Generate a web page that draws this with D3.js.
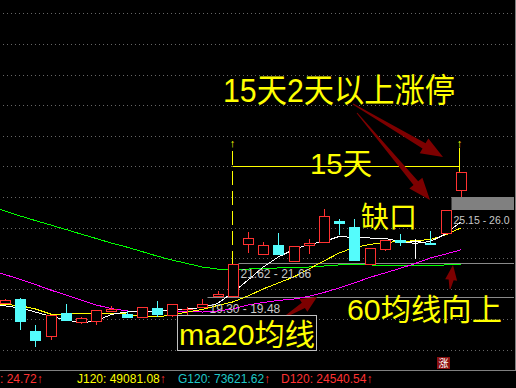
<!DOCTYPE html>
<html>
<head>
<meta charset="utf-8">
<script src="https://cdn.jsdelivr.net/npm/d3@7"></script>
<style>
  html, body { margin: 0; background: #000; }
  svg { display: block; font-family: "Liberation Sans", Arial, "Noto Sans CJK SC", sans-serif; }
</style>
</head>
<body>
<svg id="chart" width="516" height="388"></svg>
<script>
// daily candles, left to right (prices)
const opens  = [19.05, 19.33, 17.24, 16.93, 18.42, 17.78, 17.85, 18.58, 18.37, 18.16, 18.72, 18.29, 18.65, 18.79, 19.55, 19.55, 22.91, 22.25, 22.86, 21.84, 22.91, 23.04, 24.43, 24.02, 21.60, 22.58, 23.22, 23.10, 22.97, 23.63, 26.50];
const highs  = [19.33, 19.40, 17.63, 18.29, 19.01, 18.16, 18.61, 18.88, 18.57, 18.81, 19.20, 19.01, 18.81, 19.30, 19.86, 21.62, 23.69, 23.04, 23.63, 22.82, 23.25, 25.20, 24.54, 24.56, 22.65, 23.19, 23.58, 23.23, 23.78, 25.15, 27.65];
const lows   = [19.01, 17.31, 16.22, 16.65, 17.94, 17.67, 17.63, 18.48, 18.09, 18.09, 18.18, 18.18, 18.14, 18.79, 19.48, 19.55, 22.32, 22.25, 22.25, 21.84, 22.27, 23.04, 23.52, 21.88, 21.60, 22.49, 22.80, 21.93, 22.90, 23.63, 26.00];
const closes = [19.27, 17.91, 16.65, 18.29, 17.96, 18.07, 18.59, 18.68, 18.18, 18.79, 18.33, 19.01, 18.68, 19.01, 19.66, 21.62, 23.30, 22.84, 22.25, 22.82, 23.01, 24.76, 24.32, 21.88, 22.65, 23.17, 23.12, 23.10, 22.91, 25.15, 27.65];

// moving averages; first value belongs to the bar just off the left edge
const ma5  = [18.91, 18.88, 18.75, 18.48, 18.19, 17.99, 17.76, 17.91, 18.32, 18.48, 18.52, 18.55, 18.61, 18.68, 18.78, 19.04, 19.76, 20.57, 21.42, 22.08, 22.57, 22.90, 23.09, 23.42, 23.35, 23.32, 23.30, 23.09, 22.97, 23.09, 23.58, 24.37];
const ma10 = [19.01, 18.97, 18.90, 18.68, 18.35, 18.35, 18.39, 18.39, 18.39, 18.35, 18.19, 18.16, 18.29, 18.48, 18.65, 18.91, 19.14, 19.53, 19.99, 20.38, 20.77, 21.29, 21.82, 22.34, 22.70, 22.90, 23.03, 23.09, 23.14, 23.22, 23.52, 23.97];
const ma20 = [21.26, 20.93, 20.61, 20.28, 19.92, 19.59, 19.27, 18.94, 18.71, 18.55, 18.52, 18.55, 18.55, 18.52, 18.48, 18.55, 18.68, 18.94, 19.10, 19.24, 19.33, 19.50, 19.76, 20.05, 20.38, 20.74, 21.03, 21.33, 21.65, 22.01, 22.27, 22.54];
const ma60 = [25.41, 25.08, 24.76, 24.46, 24.17, 23.88, 23.58, 23.29, 22.99, 22.73, 22.44, 22.14, 21.88, 21.65, 21.42, 21.29, 21.23, 21.29, 21.33, 21.36, 21.39, 21.42, 21.49, 21.56, 21.59, 21.56, 21.52, 21.49, 21.49, 21.49, 21.56, 21.62];

const gridPrices = [16, 18, 20, 22, 24, 26, 28, 30, 32, 34, 36, 38];

// gaps: low, high, bar after which the marker starts, label
const gapLows   = [19.30, 21.62, 25.15];
const gapHighs  = [19.48, 21.66, 26.0];
const gapBars   = [14, 16, 30];
const gapLabels = ['19.30 - 19.48', '21.62 - 21.66', '25.15 - 26.0'];

const legendNames  = ['', 'J120', 'G120', 'D120'];
const legendValues = ['24.72', '49081.08', '73621.62', '24540.54'];

const W = 516, H = 388;
const svg = d3.select('#chart');
const RED = '#ff3232', CYAN = '#54fcfc', YEL = '#ffff00', ARROW = '#7d0000';

const x = d3.scaleLinear().domain([1, 31]).range([5, 460.7]);
const y = d3.scaleLinear().domain([14.69, 38.88]).range([370, 0]);
const bodyW = 10;

svg.append('rect').attr('width', W).attr('height', H).attr('fill', '#000');

svg.append('defs').append('clipPath').attr('id', 'plot')
  .append('rect').attr('x', 0).attr('y', 0).attr('width', 514).attr('height', 369);

// dotted price grid
svg.append('g').selectAll('line').data(gridPrices).join('line')
  .attr('x1', 3).attr('x2', 512)
  .attr('y1', d => Math.round(y(d)) + 0.5).attr('y2', d => Math.round(y(d)) + 0.5)
  .attr('stroke', '#666').attr('stroke-dasharray', '1,3');

// frame
svg.append('line').attr('x1', 515.5).attr('x2', 515.5).attr('y1', 0).attr('y2', 370)
  .attr('stroke', '#808080');
svg.append('line').attr('x1', 0).attr('x2', 516).attr('y1', 370.5).attr('y2', 370.5)
  .attr('stroke', '#808080');

const plot = svg.append('g').attr('clip-path', 'url(#plot)');

// gap markers
const gaps = gapLows.map((lo, i) => ({ lo, hi: gapHighs[i], bar: gapBars[i], label: gapLabels[i] }));
gaps.forEach(g => {
  const x0 = Math.round(x(g.bar) + bodyW / 2) + 0.5;
  const yTop = y(g.hi), yBot = y(g.lo);
  if (yBot - yTop > 5) {
    plot.append('rect').attr('x', x0).attr('y', Math.round(yTop))
      .attr('width', W - x0).attr('height', Math.round(yBot - yTop))
      .attr('fill', '#808080');
  } else {
    plot.append('line').attr('x1', x0).attr('x2', W)
      .attr('y1', Math.round(yTop) + 0.5).attr('y2', Math.round(yTop) + 0.5)
      .attr('stroke', '#8a8a8a');
  }
  // the label by the right frame gets a smaller size so it stays whole
  const t = svg.append('text').attr('x', x0 + 2).attr('y', Math.round(yBot) + 14)
    .attr('fill', '#c8c8c8').attr('font-size', 12)
    .text(g.label);
  if (x0 + 2 + t.node().getComputedTextLength() > 508) t.attr('font-size', 10.5);
});

// moving average lines
const line = d3.line().x((d, i) => x(i)).y(d => y(d));
[[ma60, '#00ff00'], [ma20, '#ff00ff'], [ma10, YEL], [ma5, '#ffffff']].forEach(([vals, col]) => {
  plot.append('path').datum(vals).attr('d', line)
    .attr('fill', 'none').attr('stroke', col).attr('stroke-width', 1)
    .attr('shape-rendering', 'crispEdges');
});

// candles
const bars = opens.map((o, i) => ({ i: i + 1, o, h: highs[i], l: lows[i], c: closes[i] }));
const colorOf = d => d.c > d.o ? RED : (d.c < d.o ? CYAN : '#ffffff');
const cg = plot.append('g').attr('shape-rendering', 'crispEdges');
const bar = cg.selectAll('g').data(bars).join('g');
bar.append('line')
  .attr('x1', d => Math.round(x(d.i)) + 0.5).attr('x2', d => Math.round(x(d.i)) + 0.5)
  .attr('y1', d => y(d.h)).attr('y2', d => y(d.l))
  .attr('stroke', colorOf);
bar.append('rect')
  .attr('x', d => Math.round(x(d.i)) - bodyW / 2 + 0.5)
  .attr('y', d => Math.round(y(Math.max(d.o, d.c))) + 0.5)
  .attr('width', bodyW)
  .attr('height', d => Math.max(0.01, Math.round(Math.abs(y(d.o) - y(d.c)))))
  .attr('fill', d => d.c > d.o ? '#000' : colorOf(d))
  .attr('stroke', colorOf);

// 15-day bracket
const xL = Math.round(x(16)) - 0.5, xR = Math.round(x(31)) - 1.5, yB = Math.round(y(28)) + 0.5;
svg.append('line').attr('x1', xL).attr('x2', xL).attr('y1', 151).attr('y2', y(highs[15]))
  .attr('stroke', YEL).attr('stroke-dasharray', '14,6');
svg.append('line').attr('x1', xR).attr('x2', xR).attr('y1', 148).attr('y2', y(highs[30]))
  .attr('stroke', YEL);
svg.append('line').attr('x1', xL).attr('x2', xR).attr('y1', yB).attr('y2', yB)
  .attr('stroke', YEL);
[xL, xR].forEach(xx => {
  svg.append('text').attr('x', xx).attr('y', 147).attr('text-anchor', 'middle')
    .attr('fill', YEL).attr('font-size', 11).text('↑');
});

// dark red arrows
function arrowPath (x1, y1, x2, y2, tw, sw, hw, hl) {
  const dx = x2 - x1, dy = y2 - y1, L = Math.hypot(dx, dy);
  const ux = dx / L, uy = dy / L, nx = -uy, ny = ux;
  const bx = x2 - ux * hl, by = y2 - uy * hl;
  const p = [
    [x1 + nx * tw / 2, y1 + ny * tw / 2], [bx + nx * sw / 2, by + ny * sw / 2],
    [bx + nx * hw / 2, by + ny * hw / 2], [x2, y2],
    [bx - nx * hw / 2, by - ny * hw / 2], [bx - nx * sw / 2, by - ny * sw / 2],
    [x1 - nx * tw / 2, y1 - ny * tw / 2]
  ];
  return 'M' + p.map(q => q.join(',')).join('L') + 'Z';
}
const arrows = [
  [353, 104, 443, 157, 1, 6, 17, 22],
  [357, 113, 430, 200, 1, 6, 17, 22],
  [283, 318, 317, 297, 1, 6, 15, 16],
  [450, 289, 453, 265, 1, 5, 12, 15]
];
svg.append('g').selectAll('path').data(arrows).join('path')
  .attr('d', d => arrowPath(...d)).attr('fill', ARROW);

// annotation texts
const note = (tx, ty, size, str, len) => {
  const t = svg.append('text').attr('x', tx).attr('y', ty)
    .attr('fill', YEL).attr('font-size', size).text(str);
  if (len) t.attr('textLength', len).attr('lengthAdjust', 'spacingAndGlyphs');
  return t;
};
note(223, 102, 33, '15天2天以上涨停', 232);
note(310, 174, 30, '15天', 62);
note(361, 228, 29, '缺口', 56);
note(347, 320, 30, '60均线向上', 155);
svg.append('rect').attr('x', 177.5).attr('y', 315.5).attr('width', 139).attr('height', 35)
  .attr('fill', '#000').attr('stroke', '#c0c0c0');
note(179, 345, 30, 'ma20均线', 136);

// bottom indicator legend
const legendColors = [RED, YEL, '#1fc8c8', RED];
const legendX = [0, 77, 178, 281];
legendNames.forEach((n, i) => {
  const t = svg.append('text').attr('x', legendX[i]).attr('y', 383).attr('font-size', 12);
  t.append('tspan').attr('fill', legendColors[i]).text(n + ': ' + legendValues[i]);
  t.append('tspan').attr('fill', RED).text('↑');
});

// 涨 badge
svg.append('rect').attr('x', 437).attr('y', 357).attr('width', 13).attr('height', 12).attr('fill', '#8b1010');
svg.append('text').attr('x', 443.5).attr('y', 367).attr('text-anchor', 'middle')
  .attr('font-size', 10).attr('fill', '#fff').text('涨');
</script>
</body>
</html>
